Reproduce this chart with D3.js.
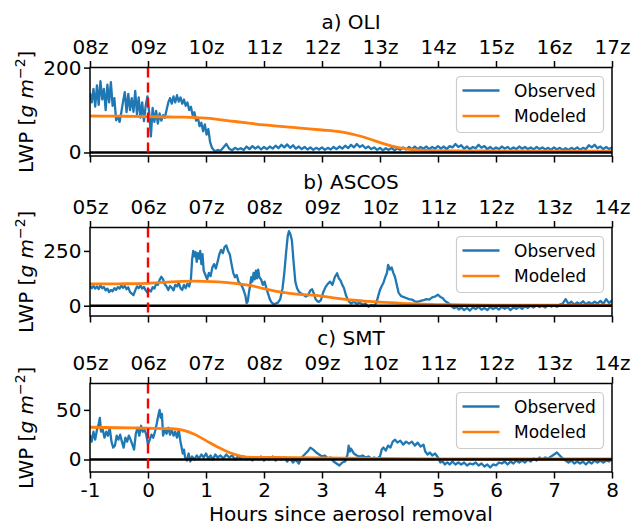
<!DOCTYPE html>
<html><head><meta charset="utf-8">
<script src="https://cdn.jsdelivr.net/npm/d3@7"></script>
<style>body{margin:0;background:#fff} text{font-family:"DejaVu Sans",sans-serif;fill:#000}</style>
</head><body><svg id="c" width="633" height="525"></svg>
<script>
// ---------- data ----------
const hourTicks = [-1,0,1,2,3,4,5,6,7,8];
const clockA = ["08z","09z","10z","11z","12z","13z","14z","15z","16z","17z"];
const clockB = ["05z","06z","07z","08z","09z","10z","11z","12z","13z","14z"];
const clockC = ["05z","06z","07z","08z","09z","10z","11z","12z","13z","14z"];
const titles = ["a) OLI","b) ASCOS","c) SMT"];
const yTicksA = [0,200], yTicksB = [0,250], yTicksC = [0,50];

const obsA = [[-1.00,140],[-0.97,118],[-0.94,150],[-0.91,108],[-0.88,158],[-0.85,112],[-0.82,168],[-0.79,125],[-0.76,150],[-0.73,100],[-0.70,160],[-0.67,118],[-0.64,166],[-0.61,110],[-0.58,128],[-0.55,76],[-0.52,85],[-0.49,72],[-0.46,95],[-0.43,120],[-0.40,142],[-0.37,95],[-0.34,138],[-0.31,100],[-0.28,128],[-0.25,96],[-0.22,145],[-0.19,90],[-0.16,130],[-0.13,82],[-0.10,118],[-0.07,74],[-0.04,110],[-0.01,132],[0.02,95],[0.05,38],[0.08,105],[0.11,72],[0.14,98],[0.17,68],[0.20,92],[0.23,75],[0.26,88],[0.29,82],[0.32,100],[0.35,118],[0.38,128],[0.41,115],[0.44,132],[0.47,118],[0.50,135],[0.53,120],[0.56,130],[0.59,115],[0.62,125],[0.65,110],[0.68,118],[0.71,100],[0.74,108],[0.77,88],[0.80,95],[0.83,75],[0.86,82],[0.89,62],[0.92,70],[0.95,50],[0.98,66],[1.01,42],[1.04,55],[1.07,25],[1.10,12],[1.13,6],[1.16,3],[1.20,6],[1.25,4],[1.30,12],[1.35,20],[1.40,9],[1.45,5],[1.50,11],[1.55,7],[1.60,10],[1.65,6],[1.70,14],[1.75,8],[1.80,15],[1.85,9],[1.90,14],[1.95,7],[2.00,13],[2.05,8],[2.10,14],[2.15,9],[2.20,16],[2.25,10],[2.30,18],[2.35,12],[2.40,19],[2.45,11],[2.50,17],[2.55,9],[2.60,14],[2.65,8],[2.70,13],[2.75,7],[2.80,12],[2.85,6],[2.90,11],[2.95,7],[3.00,12],[3.05,6],[3.10,11],[3.15,7],[3.20,13],[3.25,8],[3.30,14],[3.35,9],[3.40,16],[3.45,10],[3.50,18],[3.55,12],[3.60,20],[3.65,13],[3.70,17],[3.75,10],[3.80,14],[3.85,8],[3.90,12],[3.95,6],[4.00,11],[4.05,5],[4.10,10],[4.15,6],[4.20,11],[4.25,5],[4.30,10],[4.35,6],[4.40,12],[4.45,7],[4.50,13],[4.55,8],[4.60,14],[4.65,8],[4.70,13],[4.75,9],[4.80,14],[4.85,8],[4.90,13],[4.95,9],[5.00,15],[5.05,9],[5.10,14],[5.15,8],[5.20,15],[5.25,12],[5.30,20],[5.35,13],[5.40,17],[5.45,9],[5.50,14],[5.55,8],[5.60,13],[5.65,10],[5.70,18],[5.75,11],[5.80,15],[5.85,8],[5.90,13],[5.95,7],[6.00,12],[6.05,8],[6.10,14],[6.15,9],[6.20,13],[6.25,7],[6.30,12],[6.35,8],[6.40,14],[6.45,9],[6.50,13],[6.55,8],[6.60,12],[6.65,7],[6.70,13],[6.75,8],[6.80,12],[6.85,7],[6.90,11],[6.95,6],[7.00,12],[7.05,7],[7.10,11],[7.15,6],[7.20,10],[7.25,6],[7.30,11],[7.35,7],[7.40,12],[7.45,6],[7.50,11],[7.55,8],[7.60,17],[7.65,12],[7.70,18],[7.75,10],[7.80,14],[7.85,8],[7.90,13],[7.95,8],[8.00,12]];
const modA = [[-1,86],[-0.5,85.5],[0,84.5],[0.5,83.5],[1,81],[1.5,73],[2,65],[2.5,59],[3,53],[3.3,49],[3.5,44],[3.7,37],[3.9,28],[4.1,19],[4.3,12],[4.5,7.5],[4.8,5],[5.2,4],[6,3.5],[8,3]];

const obsB = [[-1.00,92],[-0.97,80],[-0.94,90],[-0.91,78],[-0.88,88],[-0.85,76],[-0.82,92],[-0.79,80],[-0.76,85],[-0.73,70],[-0.70,78],[-0.67,62],[-0.64,72],[-0.61,66],[-0.58,80],[-0.55,72],[-0.52,85],[-0.49,78],[-0.46,92],[-0.43,82],[-0.40,90],[-0.37,75],[-0.34,84],[-0.31,62],[-0.28,55],[-0.25,48],[-0.22,70],[-0.19,88],[-0.16,80],[-0.13,92],[-0.10,78],[-0.07,86],[-0.04,70],[-0.01,60],[0.02,72],[0.05,65],[0.08,85],[0.11,78],[0.14,100],[0.17,95],[0.20,118],[0.23,132],[0.26,120],[0.29,98],[0.32,88],[0.35,72],[0.38,90],[0.41,82],[0.44,70],[0.47,95],[0.50,88],[0.53,104],[0.56,80],[0.59,72],[0.62,95],[0.65,80],[0.68,100],[0.71,88],[0.74,120],[0.76,210],[0.78,250],[0.80,225],[0.82,245],[0.84,200],[0.86,240],[0.88,215],[0.90,250],[0.92,190],[0.94,235],[0.96,160],[0.99,140],[1.02,120],[1.05,150],[1.08,135],[1.11,175],[1.14,190],[1.17,170],[1.20,200],[1.23,235],[1.26,255],[1.29,240],[1.32,268],[1.35,275],[1.38,250],[1.41,235],[1.44,190],[1.47,150],[1.50,130],[1.53,140],[1.56,110],[1.59,100],[1.62,90],[1.65,70],[1.68,45],[1.70,12],[1.72,20],[1.74,60],[1.76,90],[1.78,130],[1.80,110],[1.82,150],[1.84,120],[1.86,160],[1.88,125],[1.90,165],[1.92,130],[1.95,120],[1.98,95],[2.01,110],[2.04,80],[2.07,55],[2.10,30],[2.13,15],[2.16,8],[2.20,10],[2.24,14],[2.28,30],[2.32,80],[2.35,150],[2.38,240],[2.41,320],[2.43,340],[2.45,330],[2.48,300],[2.51,200],[2.54,110],[2.57,80],[2.60,65],[2.64,55],[2.68,50],[2.72,42],[2.76,48],[2.80,70],[2.83,75],[2.86,55],[2.89,30],[2.92,20],[2.95,18],[2.98,25],[3.02,60],[3.06,85],[3.10,100],[3.14,110],[3.18,95],[3.22,130],[3.26,148],[3.29,125],[3.32,115],[3.35,95],[3.38,80],[3.41,50],[3.44,30],[3.47,18],[3.50,10],[3.55,18],[3.60,8],[3.65,14],[3.70,5],[3.75,10],[3.80,-5],[3.85,4],[3.90,-2],[3.94,15],[3.97,45],[4.00,72],[4.03,90],[4.06,105],[4.09,130],[4.12,150],[4.14,186],[4.17,165],[4.20,175],[4.23,150],[4.26,130],[4.29,95],[4.32,60],[4.36,45],[4.40,40],[4.45,35],[4.50,30],[4.55,28],[4.60,20],[4.65,18],[4.70,22],[4.75,25],[4.80,30],[4.85,28],[4.90,38],[4.95,42],[5.00,50],[5.04,40],[5.08,35],[5.12,22],[5.16,15],[5.20,8],[5.24,-5],[5.28,-12],[5.32,-5],[5.36,-18],[5.40,-8],[5.45,-20],[5.50,-10],[5.55,-22],[5.60,-8],[5.65,-15],[5.70,-5],[5.75,-18],[5.80,-10],[5.85,-20],[5.90,-6],[5.95,-15],[6.00,-8],[6.05,-18],[6.10,-5],[6.15,-14],[6.20,-6],[6.25,-20],[6.30,-8],[6.35,-14],[6.40,-4],[6.45,-15],[6.50,-2],[6.55,-10],[6.60,0],[6.65,-8],[6.70,2],[6.75,-6],[6.80,0],[6.85,-8],[6.90,3],[6.95,-4],[7.00,2],[7.05,-5],[7.10,5],[7.15,10],[7.20,30],[7.25,8],[7.30,18],[7.35,5],[7.40,15],[7.45,8],[7.50,20],[7.55,6],[7.60,16],[7.65,8],[7.70,18],[7.75,10],[7.80,22],[7.85,8],[7.90,30],[7.95,12],[8.00,25]];
const modB = [[-1,99],[-0.5,100],[0,102],[0.5,110],[0.8,112],[1.1,110],[1.5,102],[1.8,90],[2.0,78],[2.3,62],[2.6,52],[2.9,47],[3.2,36],[3.5,26],[3.8,20],[4.1,15],[4.5,9],[5,5],[5.5,4],[6,3],[8,3]];

const obsC = [[-1.00,25],[-0.97,18],[-0.94,28],[-0.91,20],[-0.88,30],[-0.85,36],[-0.83,42],[-0.81,28],[-0.78,30],[-0.75,22],[-0.72,28],[-0.69,24],[-0.66,32],[-0.63,18],[-0.60,12],[-0.57,14],[-0.54,24],[-0.51,20],[-0.48,25],[-0.45,18],[-0.42,12],[-0.39,22],[-0.36,18],[-0.33,24],[-0.30,20],[-0.27,15],[-0.24,10],[-0.21,26],[-0.18,32],[-0.15,24],[-0.12,34],[-0.09,28],[-0.06,30],[-0.03,25],[0.00,15],[0.03,20],[0.06,25],[0.09,22],[0.12,28],[0.15,36],[0.18,45],[0.20,50],[0.22,42],[0.24,46],[0.26,24],[0.29,30],[0.32,26],[0.35,32],[0.38,25],[0.41,30],[0.44,24],[0.47,28],[0.50,22],[0.53,30],[0.56,18],[0.58,12],[0.60,6],[0.62,10],[0.64,2],[0.67,-1],[0.70,6],[0.73,-2],[0.76,3],[0.80,0],[0.84,4],[0.88,1],[0.92,5],[0.96,2],[1.00,6],[1.04,1],[1.08,4],[1.12,0],[1.16,5],[1.20,2],[1.25,4],[1.30,1],[1.35,5],[1.40,2],[1.45,4],[1.50,0],[1.55,3],[1.60,1],[1.65,3],[1.70,0],[1.75,2],[1.80,-1],[1.85,2],[1.90,0],[1.95,3],[2.00,-1],[2.05,2],[2.10,0],[2.15,3],[2.20,-1],[2.25,2],[2.30,0],[2.35,2],[2.40,-2],[2.45,1],[2.50,-3],[2.55,0],[2.60,-4],[2.65,2],[2.70,5],[2.75,8],[2.80,12],[2.85,10],[2.90,7],[2.95,5],[3.00,3],[3.05,4],[3.10,1],[3.15,2],[3.20,-2],[3.25,-4],[3.30,-6],[3.35,-3],[3.40,-2],[3.44,5],[3.46,14],[3.48,8],[3.50,11],[3.55,6],[3.60,4],[3.65,3],[3.70,4],[3.75,2],[3.80,3],[3.85,1],[3.90,2],[3.95,1],[4.00,3],[4.03,10],[4.06,12],[4.10,9],[4.14,14],[4.18,12],[4.22,18],[4.26,20],[4.30,17],[4.35,19],[4.40,15],[4.45,18],[4.50,16],[4.55,18],[4.60,14],[4.65,17],[4.70,13],[4.75,15],[4.78,8],[4.82,5],[4.86,7],[4.90,4],[4.95,6],[5.00,2],[5.04,-3],[5.08,-2],[5.12,-5],[5.16,-3],[5.20,-5],[5.25,-2],[5.30,-5],[5.35,-3],[5.40,-5],[5.45,-3],[5.50,-6],[5.55,-4],[5.60,-5],[5.65,-3],[5.70,-6],[5.75,-4],[5.80,-7],[5.85,-5],[5.90,-8],[5.95,-5],[6.00,-6],[6.05,-3],[6.10,-4],[6.15,-2],[6.20,-5],[6.25,-2],[6.30,-4],[6.35,-1],[6.40,-3],[6.45,-1],[6.50,-3],[6.55,0],[6.60,-2],[6.65,1],[6.70,-1],[6.75,2],[6.80,0],[6.85,2],[6.90,1],[6.95,3],[7.00,5],[7.05,7],[7.10,4],[7.15,1],[7.20,-1],[7.25,-3],[7.30,-1],[7.35,-4],[7.40,-2],[7.45,-4],[7.50,-2],[7.55,-5],[7.60,-2],[7.65,-4],[7.70,-1],[7.75,-3],[7.80,-1],[7.85,-3],[7.90,-1],[7.95,-2],[8.00,1]];
const modC = [[-1,32.5],[-0.5,32],[0,31.5],[0.4,31],[0.6,29.5],[0.8,25.5],[1.0,19],[1.2,12.5],[1.4,7],[1.6,3.5],[1.8,2.2],[2.2,2],[3,1.5],[4,1],[5,0.7],[8,0.5]];

// ---------- layout ----------
const svg = d3.select("#c");
const X0 = 90, X1 = 612, H = 88.5;
const FS = 20;
const x = d3.scaleLinear().domain([-1, 8]).range([X0, X1]);

const panels = [
  {title: titles[0], top: 67.5, dom: [-8.3, 200.3], yt: yTicksA, clock: clockA, obs: obsA, mod: modA},
  {title: titles[1], top: 227.5, dom: [-47, 357], yt: yTicksB, clock: clockB, obs: obsB, mod: modB},
  {title: titles[2], top: 383.5, dom: [-12.6, 76.6], yt: yTicksC, clock: clockC, obs: obsC, mod: modC}
];

panels.forEach((p, i) => {
  const y = d3.scaleLinear().domain(p.dom).range([p.top + H, p.top]);
  const g = svg.append("g");
  const cid = "clip" + i;
  svg.append("clipPath").attr("id", cid).append("rect")
    .attr("x", X0).attr("y", p.top).attr("width", X1 - X0).attr("height", H);
  const plot = g.append("g").attr("clip-path", `url(#${cid})`);
  const line = d3.line().x(d => x(d[0])).y(d => y(d[1]));

  plot.append("path").datum(p.obs).attr("d", line)
    .attr("fill", "none").attr("stroke", "#1f77b4").attr("stroke-width", 2.3).attr("stroke-linejoin", "round");
  plot.append("path").datum(p.mod).attr("d", d3.line().curve(d3.curveMonotoneX).x(d => x(d[0])).y(d => y(d[1])))
    .attr("fill", "none").attr("stroke", "#ff7f0e").attr("stroke-width", 2.8);
  plot.append("line").attr("x1", X0).attr("x2", X1).attr("y1", y(0)).attr("y2", y(0))
    .attr("stroke", "#000").attr("stroke-width", 2.6);
  plot.append("line").attr("x1", x(0)).attr("x2", x(0)).attr("y1", p.top).attr("y2", p.top + H)
    .attr("stroke", "#ff0000").attr("stroke-width", 2.4).attr("stroke-dasharray", "10,5");

  // axes
  const top = g.append("g").attr("transform", `translate(0,${p.top})`)
    .call(d3.axisTop(x).tickValues(hourTicks).tickFormat((d, k) => p.clock[k]).tickSize(6.5).tickSizeOuter(0).tickPadding(7.5));
  const bot = g.append("g").attr("transform", `translate(0,${p.top + H})`)
    .call(d3.axisBottom(x).tickValues(hourTicks).tickFormat(d => i === 2 ? d3.format("d")(d).replace("−", "-") : "").tickSize(6.5).tickSizeOuter(0).tickPadding(4.5));
  const left = g.append("g").attr("transform", `translate(${X0},0)`)
    .call(d3.axisLeft(y).tickValues(p.yt).tickFormat(d3.format("d")).tickSize(6).tickSizeOuter(0).tickPadding(2.5));
  [top, bot, left].forEach(a => {
    a.select(".domain").remove();
    a.selectAll(".tick line").attr("stroke", "#000").attr("stroke-width", 1.5);
    a.selectAll(".tick text").style("font-size", FS + "px").style("font-family", "DejaVu Sans").attr("fill", "#000");
  });

  // spines
  g.append("rect").attr("x", X0).attr("y", p.top).attr("width", X1 - X0).attr("height", H)
    .attr("fill", "none").attr("stroke", "#000").attr("stroke-width", 1.5);

  // title
  g.append("text").attr("x", (X0 + X1) / 2).attr("y", p.top - 38.5).attr("text-anchor", "middle")
    .style("font-size", FS + "px").text(p.title);

  // y label
  const yl = g.append("text").attr("transform", `translate(33,${p.top + H / 2}) rotate(-90)`)
    .attr("text-anchor", "middle").style("font-size", FS + "px");
  yl.append("tspan").text("LWP [");
  yl.append("tspan").style("font-style", "italic").text("g");
  yl.append("tspan").text(" ");
  yl.append("tspan").style("font-style", "italic").text("m");
  yl.append("tspan").attr("dy", -8).style("font-size", "14px").text("\u2212");
  yl.append("tspan").style("font-size", "14px").text("2");
  yl.append("tspan").attr("dy", 8).text("]");

  // legend
  const lg = g.append("g").attr("transform", `translate(456.5,${p.top + 9})`);
  lg.append("rect").attr("width", 147).attr("height", 56).attr("rx", 4)
    .attr("fill", "#fff").attr("fill-opacity", 0.8).attr("stroke", "#cccccc").attr("stroke-width", 1.2);
  [["Observed", "#1f77b4", 14], ["Modeled", "#ff7f0e", 39.5]].forEach(([lab, col, yy]) => {
    lg.append("line").attr("x1", 6).attr("x2", 43).attr("y1", yy).attr("y2", yy)
      .attr("stroke", col).attr("stroke-width", 2.6);
    lg.append("text").attr("x", 57.5).attr("y", yy + 6).style("font-size", "17px").text(lab);
  });
});

svg.append("text").attr("x", (X0 + X1) / 2).attr("y", 521).attr("text-anchor", "middle")
  .style("font-size", FS + "px").text("Hours since aerosol removal");
</script></body></html>
